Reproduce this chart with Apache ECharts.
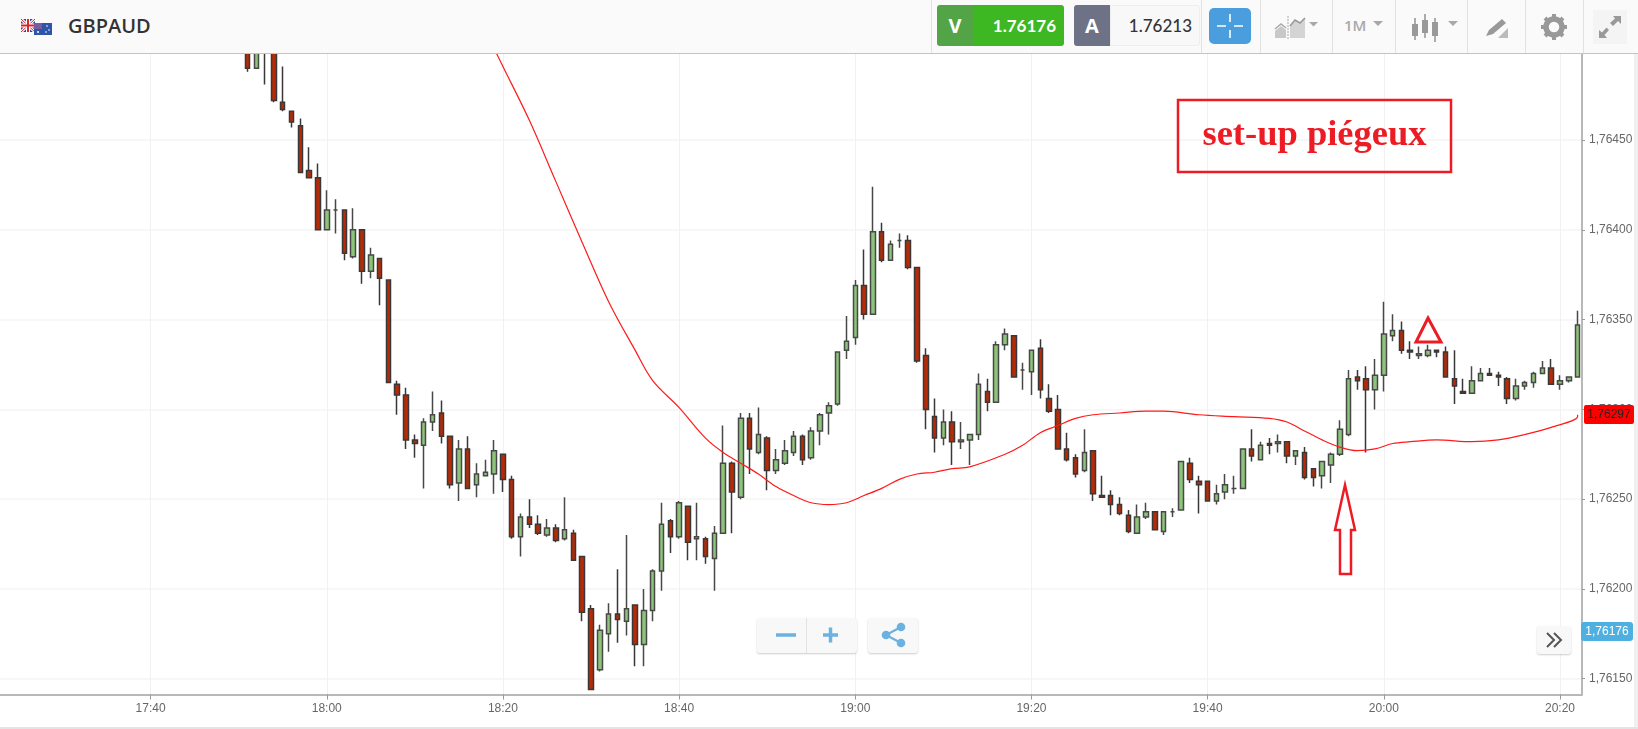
<!DOCTYPE html>
<html>
<head>
<meta charset="utf-8">
<title>GBPAUD</title>
<script src="https://cdn.jsdelivr.net/npm/echarts@6/dist/echarts.min.js"></script>
<style>
html,body{margin:0;padding:0;background:#fff;width:1638px;height:729px;overflow:hidden}
#chart{position:absolute;left:-20px;top:0;width:1658px;height:729px}
#bar{position:absolute;left:0;top:0;width:1638px;height:54px;background:#fafafa;border-bottom:1px solid #c4c4c4;box-sizing:border-box;font-family:"Open Sans",sans-serif}
#bar div,#bar span,#bar svg{position:absolute}
.sep{top:0;width:1px;height:53px;background:#e2e2e2}
.btn{background:#f8f8f8;box-shadow:0 1px 2px rgba(0,0,0,.2);border-radius:3px;position:absolute}
#edge{position:absolute;left:1634px;top:54px;width:4px;height:675px;background:#f0f0f0}
#foot{position:absolute;left:0;top:727px;width:1638px;height:2px;background:#e4e4e4}
</style>
</head>
<body>
<div id="chart"></div>
<div id="edge"></div><div id="foot"></div>
<div id="bar">
  <svg style="left:21px;top:19px" width="32" height="17" viewBox="0 0 32 17">
    <rect x="0" y="0" width="14" height="13" fill="#2b4a9b"/>
    <path d="M0 0L14 13M14 0L0 13" stroke="#fff" stroke-width="3"/><path d="M0 0L14 13M14 0L0 13" stroke="#d8262c" stroke-width="1"/>
    <path d="M7 0V13M0 6.5H14" stroke="#fff" stroke-width="4"/><path d="M7 0V13M0 6.5H14" stroke="#d8262c" stroke-width="2"/>
    <rect x="13" y="4" width="18" height="12" fill="#2f55a8"/>
    <rect x="13" y="4" width="8" height="6" fill="#7a5aa0"/>
    <circle cx="17" cy="13" r="1" fill="#fff"/><circle cx="26" cy="7" r=".8" fill="#fff"/><circle cx="28" cy="11" r=".8" fill="#fff"/><circle cx="25" cy="13" r=".8" fill="#fff"/>
  </svg>
  <span style="left:68px;top:12px;font-size:20px;font-weight:600;color:#333;line-height:27px">GBPAUD</span>
  <div class="sep" style="left:931px"></div>
  <div style="left:937px;top:5px;width:36px;height:41px;background:#52a447;border-radius:3px 0 0 3px;color:#fff;font:700 20px/41px 'Open Sans',sans-serif;text-align:center">V</div>
  <div style="left:973px;top:5px;width:91px;height:41px;background:#3db823;border-radius:0 3px 3px 0;color:#fff;font:700 17px/41px Lato,sans-serif;text-align:right;box-sizing:border-box;padding-right:8px">1.76176</div>
  <div style="left:1074px;top:5px;width:36px;height:41px;background:#6d7286;border-radius:3px 0 0 3px;color:#fff;font:700 20px/41px 'Open Sans',sans-serif;text-align:center">A</div>
  <div style="left:1110px;top:5px;width:90px;height:41px;background:#f8f8f8;border:1px solid #eee;box-sizing:border-box;border-radius:0 3px 3px 0;color:#333;font:500 17px/39px Lato,sans-serif;text-align:right;padding-right:7px">1.76213</div>
  <div class="sep" style="left:1201px"></div>
  <div style="left:1209px;top:8px;width:42px;height:36px;background:#4a9edd;border-radius:5px"></div>
  <svg style="left:1209px;top:8px" width="42" height="36"><path d="M21 6V14M21 22V30M8 18H17M25 18H34" stroke="#fff" stroke-width="1.6"/></svg>
  <div class="sep" style="left:1260px"></div>
  <svg style="left:1272px;top:14px" width="50" height="26"><path d="M3 22V17L9 12L14 16V24H3Z" fill="#c8c8c8"/><path d="M3 15L9 10L14 14" stroke="#aaa" stroke-width="1.6" fill="none"/><path d="M18 22V12L23 6L28 9L33 4V24H18Z" fill="#d4d4d4"/><path d="M18 12L23 6L28 9L33 4" stroke="#999" stroke-width="1.6" fill="none"/><path d="M16 2V25" stroke="#aaa" stroke-dasharray="2 1"/><path d="M37 8H46L41.5 12.5Z" fill="#a8a8a8"/></svg>
  <div class="sep" style="left:1332px"></div>
  <span style="left:1344px;top:15px;font:600 15px/20px 'Open Sans',sans-serif;color:#a8a8a8">1M</span>
  <svg style="left:1372px;top:20px" width="14" height="8"><path d="M1 1H11L6 6Z" fill="#a8a8a8"/></svg>
  <div class="sep" style="left:1395px"></div>
  <svg style="left:1410px;top:12px" width="56" height="30"><g stroke="#999" stroke-width="1.6"><path d="M5 6V28M15 2V26M25 6V30"/></g><g fill="#999"><rect x="2" y="12" width="6" height="12"/><rect x="12" y="8" width="6" height="13"/><rect x="22" y="10" width="6" height="14"/></g><path d="M38 9H48L43 14Z" fill="#a8a8a8"/></svg>
  <div class="sep" style="left:1467px"></div>
  <svg style="left:1484px;top:16px" width="26" height="24"><path d="M2 20L5 14L18 3L22 7L9 18Z" fill="#999"/><path d="M14 22L24 12V22Z" fill="#bbb"/></svg>
  <div class="sep" style="left:1525px"></div>
  <svg style="left:1541px;top:14px" width="26" height="26" viewBox="0 0 26 26"><circle cx="13" cy="13" r="8" fill="none" stroke="#999" stroke-width="5.5"/><g stroke="#999" stroke-width="4"><path d="M13 0V5M13 21V26M0 13H5M21 13H26M4 4L7.5 7.5M18.5 18.5L22 22M22 4L18.5 7.5M7.5 18.5L4 22"/></g></svg>
  <div class="sep" style="left:1583px"></div>
  <div style="left:1593px;top:10px;width:34px;height:34px;background:#f4f4f4"></div>
  <svg style="left:1597px;top:14px" width="26" height="26"><path d="M16 2H24V10L21 7L16 12L13 9L18 4.5ZM2 16V24H10L7.5 21L12 16L9.5 13.5L5 18.5Z" fill="#999"/></svg>
</div>
<div class="btn" style="left:757px;top:618px;width:100px;height:35px"></div>
<div style="position:absolute;left:806px;top:618px;width:1px;height:35px;background:#e2e2e2"></div>
<svg style="position:absolute;left:757px;top:618px" width="100" height="35"><path d="M19 17H39" stroke="#6cb2e0" stroke-width="3.5" fill="none"/><path d="M66 17H81M73.5 9.5V24.5" stroke="#6cb2e0" stroke-width="3.5" fill="none"/></svg>
<div class="btn" style="left:868px;top:618px;width:50px;height:35px"></div>
<svg style="position:absolute;left:868px;top:618px" width="50" height="35"><path d="M33 9L18 17L33 25" stroke="#6cb2e0" stroke-width="2.2" fill="none"/><circle cx="18" cy="17" r="4.3" fill="#6cb2e0"/><circle cx="33" cy="9" r="4.3" fill="#6cb2e0"/><circle cx="33" cy="25" r="4.3" fill="#6cb2e0"/></svg>
<div class="btn" style="left:1537px;top:626px;width:34px;height:28px"></div>
<svg style="position:absolute;left:1537px;top:626px" width="34" height="28"><path d="M10 7L17 14L10 21M17 7L24 14L17 21" stroke="#555" stroke-width="2" fill="none"/></svg>
<script>
var firstCandleIndex = 28;
var opens = [1.76505,1.76490,1.76510,1.76505,1.76471,1.76466,1.76458,1.76433,1.76429,1.76400,1.76411,1.76411,1.76385,1.76400,1.76377,1.76384,1.76372,1.76314,1.76308,1.76283,1.76280,1.76293,1.76298,1.76285,1.76259,1.76278,1.76258,1.76263,1.76264,1.76275,1.76261,1.76229,1.76240,1.76236,1.76230,1.76234,1.76228,1.76231,1.76218,1.76189,1.76155,1.76175,1.76186,1.76182,1.76191,1.76169,1.76188,1.76210,1.76238,1.76229,1.76246,1.76228,1.76228,1.76217,1.76231,1.76270,1.76251,1.76295,1.76276,1.76284,1.76266,1.76270,1.76276,1.76285,1.76273,1.76288,1.76298,1.76303,1.76333,1.76340,1.76369,1.76353,1.76399,1.76383,1.76394,1.76394,1.76379,1.76330,1.76296,1.76284,1.76293,1.76282,1.76283,1.76286,1.76310,1.76304,1.76336,1.76341,1.76322,1.76321,1.76334,1.76306,1.76300,1.76278,1.76273,1.76266,1.76277,1.76252,1.76252,1.76247,1.76241,1.76231,1.76240,1.76243,1.76232,1.76243,1.76244,1.76270,1.76260,1.76260,1.76249,1.76254,1.76256,1.76256,1.76278,1.76272,1.76281,1.76281,1.76282,1.76274,1.76276,1.76267,1.76263,1.76269,1.76275,1.76286,1.76318,1.76317,1.76311,1.76319,1.76341,1.76344,1.76333,1.76330,1.76330,1.76333,1.76332,1.76317,1.76310,1.76309,1.76316,1.76320,1.76319,1.76317,1.76306,1.76313,1.76315,1.76320,1.76323,1.76314,1.76316,1.76318];
var closes = [1.76490,1.76505,1.76505,1.76472,1.76467,1.76460,1.76432,1.76429,1.76400,1.76411,1.76411,1.76387,1.76400,1.76377,1.76386,1.76373,1.76315,1.76308,1.76283,1.76281,1.76293,1.76297,1.76285,1.76258,1.76278,1.76256,1.76264,1.76265,1.76277,1.76261,1.76229,1.76240,1.76236,1.76231,1.76234,1.76227,1.76233,1.76216,1.76187,1.76144,1.76177,1.76186,1.76183,1.76189,1.76169,1.76188,1.76210,1.76236,1.76229,1.76248,1.76226,1.76229,1.76218,1.76231,1.76270,1.76254,1.76295,1.76278,1.76286,1.76266,1.76272,1.76277,1.76285,1.76272,1.76288,1.76297,1.76302,1.76332,1.76338,1.76369,1.76353,1.76399,1.76383,1.76392,1.76394,1.76379,1.76327,1.76300,1.76284,1.76293,1.76282,1.76283,1.76286,1.76314,1.76304,1.76336,1.76342,1.76318,1.76322,1.76333,1.76311,1.76299,1.76278,1.76272,1.76264,1.76276,1.76253,1.76251,1.76247,1.76242,1.76232,1.76240,1.76243,1.76233,1.76243,1.76243,1.76271,1.76261,1.76258,1.76249,1.76253,1.76258,1.76256,1.76278,1.76274,1.76280,1.76280,1.76282,1.76274,1.76277,1.76262,1.76262,1.76271,1.76275,1.76289,1.76317,1.76316,1.76311,1.76319,1.76342,1.76344,1.76333,1.76332,1.76331,1.76333,1.76332,1.76318,1.76313,1.76309,1.76316,1.76320,1.76319,1.76318,1.76306,1.76313,1.76315,1.76320,1.76323,1.76314,1.76316,1.76318,1.76347];
var lows = [1.76488,1.76490,1.76481,1.76471,1.76466,1.76457,1.76432,1.76429,1.76400,1.76400,1.76398,1.76383,1.76384,1.76370,1.76373,1.76358,1.76315,1.76297,1.76278,1.76273,1.76256,1.76288,1.76281,1.76256,1.76249,1.76256,1.76251,1.76263,1.76253,1.76254,1.76228,1.76218,1.76234,1.76230,1.76229,1.76226,1.76227,1.76216,1.76182,1.76144,1.76154,1.76165,1.76170,1.76174,1.76157,1.76157,1.76182,1.76199,1.76220,1.76228,1.76216,1.76216,1.76214,1.76199,1.76231,1.76231,1.76250,1.76264,1.76275,1.76255,1.76264,1.76269,1.76274,1.76269,1.76272,1.76280,1.76286,1.76302,1.76328,1.76336,1.76350,1.76353,1.76382,1.76383,1.76390,1.76378,1.76326,1.76289,1.76276,1.76280,1.76269,1.76278,1.76269,1.76283,1.76299,1.76304,1.76333,1.76318,1.76311,1.76308,1.76306,1.76298,1.76278,1.76271,1.76262,1.76265,1.76249,1.76251,1.76241,1.76241,1.76231,1.76231,1.76239,1.76233,1.76230,1.76240,1.76244,1.76259,1.76242,1.76249,1.76247,1.76250,1.76253,1.76256,1.76271,1.76272,1.76275,1.76276,1.76270,1.76269,1.76261,1.76257,1.76256,1.76259,1.76274,1.76285,1.76311,1.76276,1.76300,1.76310,1.76338,1.76331,1.76328,1.76328,1.76329,1.76329,1.76318,1.76303,1.76309,1.76309,1.76316,1.76319,1.76313,1.76303,1.76305,1.76311,1.76312,1.76320,1.76314,1.76311,1.76315,1.76318];
var highs = [1.76510,1.76510,1.76515,1.76510,1.76491,1.76466,1.76462,1.76446,1.76437,1.76422,1.76417,1.76411,1.76412,1.76400,1.76390,1.76384,1.76372,1.76316,1.76312,1.76286,1.76295,1.76310,1.76305,1.76285,1.76283,1.76285,1.76270,1.76272,1.76283,1.76275,1.76263,1.76242,1.76250,1.76241,1.76239,1.76236,1.76251,1.76233,1.76218,1.76191,1.76180,1.76192,1.76211,1.76230,1.76191,1.76200,1.76211,1.76248,1.76239,1.76249,1.76246,1.76248,1.76229,1.76235,1.76291,1.76271,1.76298,1.76298,1.76301,1.76285,1.76278,1.76283,1.76288,1.76286,1.76290,1.76298,1.76304,1.76332,1.76352,1.76372,1.76389,1.76424,1.76404,1.76394,1.76398,1.76397,1.76379,1.76334,1.76306,1.76300,1.76299,1.76293,1.76286,1.76320,1.76317,1.76338,1.76345,1.76341,1.76326,1.76333,1.76339,1.76314,1.76308,1.76287,1.76275,1.76289,1.76277,1.76263,1.76255,1.76251,1.76244,1.76247,1.76248,1.76243,1.76243,1.76245,1.76271,1.76273,1.76263,1.76260,1.76258,1.76264,1.76263,1.76278,1.76289,1.76282,1.76284,1.76286,1.76282,1.76277,1.76279,1.76267,1.76271,1.76276,1.76294,1.76322,1.76322,1.76324,1.76328,1.76360,1.76353,1.76349,1.76338,1.76335,1.76336,1.76333,1.76335,1.76333,1.76317,1.76324,1.76323,1.76323,1.76321,1.76318,1.76317,1.76316,1.76321,1.76327,1.76328,1.76319,1.76318,1.76355];
var maIndex = [56,57,60,63,66,69,72,74,77,80,82,84,86,88,90,92,94,96,98,100,102,104,106,108,110,114,116,118,120,122,124,127,130,132,136,140,144,146,148,150,152,154,156,158,160,163,167,170,173,176,179,179.45];
var maValue = [1.76501,1.76491,1.76461,1.76427,1.76393,1.76360,1.76333,1.76316,1.76301,1.76284,1.76276,1.76270,1.76264,1.76257,1.76252,1.76248,1.76247,1.76248,1.76252,1.76256,1.76261,1.76264,1.76265,1.76267,1.76268,1.76275,1.76280,1.76287,1.76291,1.76295,1.76297,1.76298,1.76299,1.76299,1.76297,1.76296,1.76295,1.76293,1.76288,1.76283,1.76279,1.76277,1.76278,1.76281,1.76282,1.76283,1.76282,1.76283,1.76286,1.76290,1.76296,1.76297];
var yTicks = [1.7615,1.762,1.7625,1.763,1.7635,1.764,1.7645];
var slotCount = 180;
var firstHour = 17, firstMinute = 23;
var tickEvery = 20, firstTickIndex = 17;
var bidLabel = '1,76176', maLabel = '1,76297';

var categories = [];
for (var k = 0; k < slotCount; k++) {
  var t = firstHour * 60 + firstMinute + k;
  categories.push(Math.floor(t / 60) + ':' + ('0' + (t % 60)).slice(-2));
}
var candleData = [];
for (var c = 0; c < firstCandleIndex; c++) candleData.push('-');
for (var j = 0; j < opens.length; j++) candleData.push([opens[j], closes[j], lows[j], highs[j]]);
var maData = maIndex.map(function (ix, n) { return [ix, maValue[n]]; });
var isTick = function (i) { return i % tickEvery === firstTickIndex; };

var RED = '#ed1c24';
var chart = echarts.init(document.getElementById('chart'), null, { renderer: 'canvas' });
chart.setOption({
  animation: false,
  backgroundColor: '#ffffff',
  grid: { left: 16.44, right: 56, top: 53, bottom: 34.5, containLabel: false },
  xAxis: {
    type: 'category', data: categories, boundaryGap: true,
    axisLine: { show: true, lineStyle: { color: '#b8b8b8', width: 2 } },
    axisTick: { show: true, alignWithLabel: true, interval: isTick, length: 5, lineStyle: { color: '#999' } },
    axisLabel: { interval: isTick, color: '#666', fontSize: 12, fontFamily: 'Liberation Sans', margin: 8 },
    splitLine: { show: true, alignWithLabel: true, interval: isTick, lineStyle: { color: '#f1f1f1', width: 1 } }
  },
  yAxis: {
    type: 'value', position: 'right', scale: true,
    min: 1.761412, max: 1.764985,
    axisLine: { show: true, onZero: false, lineStyle: { color: '#b8b8b8', width: 2 } },
    axisTick: { show: true, length: 3, customValues: yTicks, lineStyle: { color: '#999' } },
    axisLabel: { color: '#666', fontSize: 12, fontFamily: 'Liberation Sans', margin: 7, customValues: yTicks,
      formatter: function (v) { return v.toFixed(5).replace('.', ','); } },
    splitLine: { show: true, lineStyle: { color: '#f4f4f4', width: 1.5 } }
  },
  series: [
    { type: 'candlestick', data: candleData, barWidth: 5, clip: true,
      itemStyle: { color: '#8cc47a', color0: '#b82a06', borderColor: '#484848', borderColor0: '#383838', borderColorDoji: '#484848', borderWidth: 1.5 } },
    { type: 'line', data: maData, smooth: 0.35, symbol: 'none', clip: true, silent: true, z: 5,
      lineStyle: { color: '#ff1a1a', width: 1.2 } }
  ],
  graphic: [{ type: 'group', x: 20, children: [
    { type: 'rect', z: 20, shape: { x: 1178, y: 100, width: 273, height: 72 }, style: { fill: 'none', stroke: RED, lineWidth: 2.5 } },
    { type: 'text', z: 20, x: 1314.5, y: 136, style: { text: 'set-up piégeux', fill: RED, font: 'bold 36.5px "Liberation Serif"', textAlign: 'center', textVerticalAlign: 'middle' } },
    { type: 'polygon', z: 20, shape: { points: [[1428, 318], [1441, 342], [1416, 342]] }, style: { fill: 'none', stroke: RED, lineWidth: 3 } },
    { type: 'polygon', z: 20, shape: { points: [[1345, 485], [1355, 530], [1351, 530], [1351, 574], [1340, 574], [1340, 530], [1335, 530]] }, style: { fill: 'none', stroke: RED, lineWidth: 2.5 } },
    { type: 'rect', z: 21, shape: { x: 1584, y: 405, width: 50, height: 19, r: 2 }, style: { fill: '#ff0000' } },
    { type: 'text', z: 22, x: 1609, y: 414.5, style: { text: maLabel, fill: '#222', font: '12px "Liberation Sans"', textAlign: 'center', textVerticalAlign: 'middle' } },
    { type: 'rect', z: 21, shape: { x: 1581, y: 622, width: 52, height: 19, r: 3 }, style: { fill: '#4fb0e0' } },
    { type: 'text', z: 22, x: 1607, y: 631.5, style: { text: bidLabel, fill: '#fff', font: '12px "Liberation Sans"', textAlign: 'center', textVerticalAlign: 'middle' } }
  ] }]
});
</script>
</body>
</html>
